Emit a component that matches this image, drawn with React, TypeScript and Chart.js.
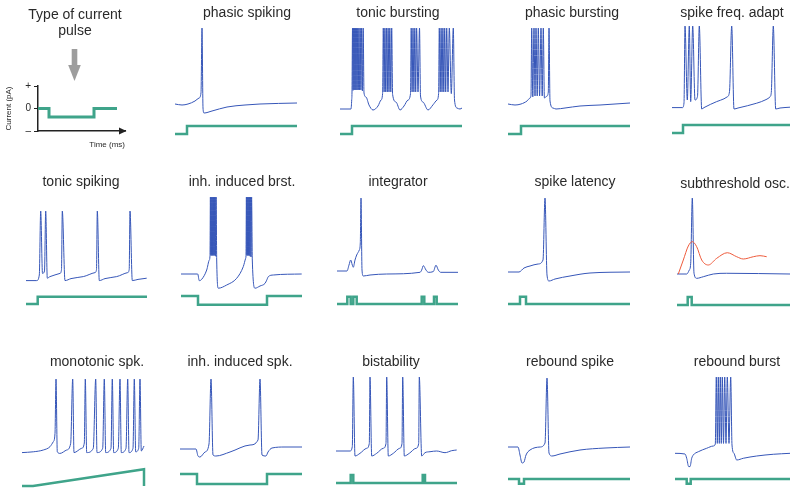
import React, { useEffect, useRef } from 'react';
import { Chart, registerables } from 'chart.js';

Chart.register(...registerables);

type Pt = [number, number];

// ---------------- data (t in ms, membrane potential in mV, current in pA) ----------------
const PANEL_TITLES = [
  'phasic spiking', 'tonic bursting', 'phasic bursting', 'spike freq. adapt',
  'tonic spiking', 'inh. induced brst.', 'integrator', 'spike latency', 'subthreshold osc.',
  'monotonic spk.', 'inh. induced spk.', 'bistability', 'rebound spike', 'rebound burst',
];

const LEGEND_TITLE = ['Type of current', 'pulse'];
const LEGEND_Y_LABEL = 'Current (pA)';
const LEGEND_X_LABEL = 'Time (ms)';
const LEGEND_TICK_VALUES = [-1, 0, 1];
const LEGEND_TICK_LABELS = ['–', '0', '+'];
const LEGEND_STEP: Pt[] = [[0, 0], [11, 0], [11, -0.38], [56, -0.38], [56, 0], [79, 0]];

const PHASIC_SPIKING_V: Pt[] = [[0, -65], [7, -66.25], [13, -65], [20, -61.25], [24, -57.5], [26, -51], [27, 30], [28, -70], [29, -76.25], [37, -73.75], [52, -68.75], [70, -66.25], [85, -65], [122, -63.75]];
const PHASIC_SPIKING_I: Pt[] = [[0, 0], [12, 0], [12, 10], [122, 10]];

const TONIC_BURSTING_V: Pt[] = [
  [0, -71.25], [11, -71.25], [11.7, -60], [12, -50], [12.5, 30], [13, -48], [13.5, 30], [14, -47.5], [14.5, 30], [15, -47.5], [15.5, 30], [16, -47.5], [16.6, 30], [17.1, -47.5], [17.7, 30], [18.3, -47.5], [18.9, 30], [19.5, -47.5], [20.2, 30], [20.9, -47.5], [21.6, 30], [22.4, -48.75], [23.2, 30], [24, -51.25], [26, -56.25], [29, -66.25], [33, -72.5], [38, -67.5], [41, -60], [42.6, -52],
  [43.3, 30], [44.1, -50], [44.9, 30], [45.7, -50], [46.5, 30], [47.3, -50], [48.1, 30], [49, -50], [49.8, 30], [50.8, -50], [51.7, 30], [52.6, -53], [56, -62.5], [60, -72.5], [64, -67.5], [68, -60], [70.5, -52],
  [71.2, 30], [72.1, -50], [73, 30], [73.9, -50], [74.8, 30], [75.7, -50], [76.6, 30], [78, -50], [79.5, 30], [80.5, -55], [83, -62.5], [88, -72.5], [93, -66], [97, -60], [98.6, -52],
  [99.3, 30], [100.2, -50], [101.1, 30], [102, -50], [102.9, 30], [103.8, -50], [104.7, 30], [105.7, -50], [106.7, 30], [108, -50], [109.3, 30], [111.3, -52], [113.3, 30], [114.5, -60], [117, -70], [120, -71.25], [122, -70],
];
const TONIC_BURSTING_I: Pt[] = [[0, 0], [12, 0], [12, 10], [122, 10]];

const PHASIC_BURSTING_V: Pt[] = [[0, -65], [7, -66.25], [13, -65], [19, -61.25], [22, -57.5], [23, -54], [23.7, 30], [24.8, -56], [26, 30], [27, -55], [28, 30], [29.2, -55], [30.3, 30], [31.6, -55], [33, 30], [34.2, -55], [35.3, 30], [36.4, -57.5], [39, -55], [40.3, -50], [41, 30], [42, -61.25], [45, -70], [48, -71.25], [57, -70], [72, -67.5], [92, -66.25], [122, -63.75]];
const PHASIC_BURSTING_I: Pt[] = [[0, 0], [13, 0], [13, 10], [122, 10]];

const SPIKE_FREQ_ADAPT_V: Pt[] = [[0, -72], [10.5, -72], [12, -66], [13, 30], [15.3, -62.5], [17.3, 30], [18.7, -64.5], [20.7, 30], [23, -62.5], [25.5, -58], [27.3, 30], [29.7, -73.75], [32, -72], [44.7, -64.5], [52, -61], [55.3, -58.5], [57.5, -52], [59.7, 30], [62, -73.75], [66, -72.5], [84.7, -66.5], [94, -62], [98, -58.5], [99.3, -53], [101.3, 30], [103.7, -73.75], [108, -72.5], [118, -71.5], [122, -71]];
const SPIKE_FREQ_ADAPT_I: Pt[] = [[0, 0], [11, 0], [11, 10], [122, 10]];

const TONIC_SPIKING_V: Pt[] = [[0, -57], [10.7, -57], [13.3, -50], [14.7, 30], [16.5, -48], [18.5, -45], [19.7, 30], [21.3, -54], [24, -52], [34, -48], [35.5, -43], [36.3, 30], [39, -57], [45, -54.5], [57.3, -52], [69, -47], [70.5, -43], [71.3, 30], [73.3, -57], [79, -54.5], [90.7, -52], [101.7, -47], [103.2, -43], [104, 30], [106.3, -57], [112, -55.5], [120.7, -54]];
const TONIC_SPIKING_I: Pt[] = [[0, 0], [11.7, 0], [11.7, 9], [121, 9]];

const INH_INDUCED_BRST_V: Pt[] = [[0, -66.25], [16.7, -66.25], [18.3, -74.6], [20.7, -72.9], [25.7, -61.25], [28.3, -48.75], [29, -43], [29.4, 30], [29.8, -43], [30.2, 30], [30.6, -43], [31, 30], [31.4, -43], [31.8, 30], [32.2, -43], [32.6, 30], [33, -43], [33.4, 30], [33.8, -43], [34.2, 30], [34.6, -44], [35.1, 30], [35.7, -48.75], [37.3, -84], [45.7, -80], [55.7, -71.6], [62.3, -57], [64.7, -46.6], [65, -43], [65.4, 30], [65.8, -43], [66.2, 30], [66.6, -43], [67, 30], [67.4, -43], [67.8, 30], [68.2, -43], [68.6, 30], [69, -44], [69.5, 30], [70, -45], [70.6, 30], [71.3, -48.75], [74, -84], [79, -81.25], [84, -78], [85.7, -74], [87.3, -69.6], [92.3, -67.5], [120.7, -66.25]];
const INH_INDUCED_BRST_I: Pt[] = [[0, 0], [17, 0], [17, -11], [86, -11], [86, 0], [121, 0]];

const INTEGRATOR_V: Pt[] = [[0, -61.25], [10, -61.25], [12, -53.75], [13.7, -47.5], [15.3, -53.75], [16.3, -56.6], [18, -47.5], [19.7, -41.25], [22.3, -35], [23.3, -26], [24, 30], [25, -60], [26.3, -67.5], [33, -66.25], [49.7, -65], [83, -62.9], [84.7, -60], [86.3, -54.6], [89, -60], [91.3, -62.9], [96.3, -62], [99, -54], [101.3, -60], [103.7, -62.9], [121, -62.9]];
const INTEGRATOR_I: Pt[] = [[0, 0], [10.3, 0], [10.3, 9], [13.7, 9], [13.7, 0], [16.3, 0], [16.3, 9], [19.7, 9], [19.7, 0], [84.7, 0], [84.7, 9], [87.3, 9], [87.3, 0], [97, 0], [97, 9], [99.7, 9], [99.7, 0], [121, 0]];

const SPIKE_LATENCY_V: Pt[] = [[0, -62.5], [11, -62.5], [16, -57.5], [22, -55], [30, -52.5], [35, -47.5], [37, 30], [39, -66.25], [41, -73.75], [47, -71.25], [62, -67.5], [82, -63.75], [122, -62.5]];
const SPIKE_LATENCY_I: Pt[] = [[0, 0], [12, 0], [12, 9], [18, 9], [18, 0], [122, 0]];

const SUBTHRESHOLD_V: Pt[] = [[0, -65], [9.7, -65], [12.3, -60], [13.7, -51.6], [15.3, 30], [17, -64], [19.7, -70.4], [26.3, -68.4], [36.3, -65], [49.7, -64.1], [113, -65]];
const SUBTHRESHOLD_OSC_V: Pt[] = [[1.3, -65], [6.3, -47.5], [11.3, -30], [15.3, -24.6], [19.7, -30.9], [24.7, -47.5], [31.3, -53.75], [39.7, -45.4], [50.3, -38.4], [59.7, -43.4], [66.3, -46.25], [76.3, -43.4], [83, -42.1], [89.7, -43.4]];
const SUBTHRESHOLD_I: Pt[] = [[0, 0], [10.7, 0], [10.7, 10], [14.7, 10], [14.7, 0], [113, 0]];

const MONOTONIC_V: Pt[] = [[0, -62], [11.3, -61], [21.3, -58.75], [28, -54.6], [31.3, -48.4], [33, -38], [34, 30], [35.3, -61], [38, -63], [44.7, -58.75], [48.7, -50.4], [50.7, 30], [52, -62], [59.7, -56.6], [62.3, -50], [63.3, 30], [64.7, -62], [71.3, -56.6], [73.7, 30], [75, -62], [80.7, -56.6], [82.3, 30], [83.7, -62], [89, -56.6], [90.3, 30], [91.7, -62], [96.3, -56.6], [98, 30], [99.3, -62], [104, -56.6], [105.7, 30], [107, -62], [111, -56.6], [112.3, 30], [113.7, -61], [116.7, -56.6], [118, 30], [119.3, -60], [122, -53.75]];
const MONOTONIC_I: Pt[] = [[0, 0], [11, 0], [122, 21], [122, 0]];

const INH_INDUCED_SPK_V: Pt[] = [[0, -57.5], [16, -57.5], [18, -66.25], [20, -67.5], [25, -61.25], [29, -51.25], [31, 30], [33, -65], [36, -66.25], [50, -61.25], [70, -52.5], [78, -46.25], [80, 30], [82, -65], [86, -66.25], [88, -61.25], [92, -56.25], [105, -55], [122, -55]];
const INH_INDUCED_SPK_I: Pt[] = [[0, 0], [17, 0], [17, -12.5], [87, -12.5], [87, 0], [122, 0]];

const BISTABILITY_V: Pt[] = [[0, -62.5], [14, -62.5], [16.3, -57], [17.3, 30], [19, -68.75], [24, -65.4], [30.7, -59.1], [33.3, -53], [34, 30], [35.7, -68.75], [40.7, -65.4], [47.3, -59.1], [50, -53], [50.7, 30], [52.3, -68.75], [57.3, -65.4], [63.7, -59.1], [66, -53], [66.7, 30], [68.3, -68.75], [73.3, -65.4], [80, -59.1], [82.7, -53], [83.3, 30], [85.7, -68.75], [89, -64.6], [94, -63.4], [100.7, -62.5], [109, -64.6], [115.7, -62.1], [120.7, -61.25]];
const BISTABILITY_I: Pt[] = [[0, 0], [14.7, 0], [14.7, 10], [17.3, 10], [17.3, 0], [86.7, 0], [86.7, 10], [89, 10], [89, 0], [121, 0]];

const REBOUND_SPIKE_V: Pt[] = [[0, -56.25], [10, -56.25], [12, -66.25], [14, -76.25], [16, -75], [18, -66.25], [22, -60], [32, -56.25], [37, -51.25], [39, 30], [41, -63.75], [44, -67.5], [52, -65], [72, -60], [97, -57.5], [122, -56.25]];
const REBOUND_SPIKE_I: Pt[] = [[0, 0], [11, 0], [11, -6], [16, -6], [16, 0], [122, 0]];

const REBOUND_BURST_V: Pt[] = [[0, -65.4], [10, -66.25], [11.7, -71.6], [13.7, -82], [15, -82], [16.7, -71.6], [18.3, -67.5], [23.3, -63.4], [31.7, -59.1], [38.3, -56.25], [40.3, -53.75], [41.3, 30], [42.3, -53], [43.3, 30], [44.3, -53], [45.3, 30], [46.3, -53], [47.3, 30], [48.5, -53], [49.7, 30], [51, -53], [52.3, 30], [54, -53], [55.7, 30], [57, -55], [59, -65.4], [61.7, -73.75], [68.3, -71.6], [81.7, -68.75], [98.3, -66.6], [115, -65.4]];
const REBOUND_BURST_I: Pt[] = [[0, 0], [11.7, 0], [11.7, -6], [15.7, -6], [15.7, 0], [115, 0]];

// ---------------- styling / layout ----------------
const FONT = '"Liberation Sans", Arial, Helvetica, sans-serif';
const TEXT = '#2a2a2a';
const BLUE = '#3656b8';
const GREEN = '#3fa48a';
const RED = '#ee5b3c';
const UNIT_PER_PX = 1.25; // mV per px and pA per px
const TITLE_SIZE = 14;

interface PanelSpec {
  title: string; top: number; height: number; titleY: number; cx: number;
  x0: number; v0Y: number; i0Y: number; v: Pt[]; i: Pt[]; v2?: Pt[];
}

const R1 = { top: 0, height: 150, titleY: 13.5 };
const R2 = { top: 160, height: 155, titleY: 182.5 };
const R3 = { top: 320, height: 171, titleY: 362 };

const PANELS: PanelSpec[] = [
  { ...R1, title: PANEL_TITLES[0], cx: 247, x0: 175, v0Y: 52, i0Y: 134, v: PHASIC_SPIKING_V, i: PHASIC_SPIKING_I },
  { ...R1, title: PANEL_TITLES[1], cx: 398, x0: 340, v0Y: 52, i0Y: 134, v: TONIC_BURSTING_V, i: TONIC_BURSTING_I },
  { ...R1, title: PANEL_TITLES[2], cx: 572, x0: 508, v0Y: 52, i0Y: 134, v: PHASIC_BURSTING_V, i: PHASIC_BURSTING_I },
  { ...R1, title: PANEL_TITLES[3], cx: 732, x0: 672, v0Y: 50, i0Y: 133, v: SPIKE_FREQ_ADAPT_V, i: SPIKE_FREQ_ADAPT_I },
  { ...R2, title: PANEL_TITLES[4], cx: 81, x0: 26, v0Y: 235, i0Y: 304, v: TONIC_SPIKING_V, i: TONIC_SPIKING_I },
  { ...R2, title: PANEL_TITLES[5], cx: 242, x0: 181, v0Y: 221, i0Y: 296, v: INH_INDUCED_BRST_V, i: INH_INDUCED_BRST_I },
  { ...R2, title: PANEL_TITLES[6], cx: 398, x0: 337, v0Y: 222, i0Y: 304, v: INTEGRATOR_V, i: INTEGRATOR_I },
  { ...R2, title: PANEL_TITLES[7], cx: 575, x0: 508, v0Y: 222, i0Y: 304, v: SPIKE_LATENCY_V, i: SPIKE_LATENCY_I },
  { ...R2, titleY: 184.5, title: PANEL_TITLES[8], cx: 735, x0: 677, v0Y: 222, i0Y: 305, v: SUBTHRESHOLD_V, i: SUBTHRESHOLD_I, v2: SUBTHRESHOLD_OSC_V },
  { ...R3, title: PANEL_TITLES[9], cx: 97, x0: 22, v0Y: 403, i0Y: 486, v: MONOTONIC_V, i: MONOTONIC_I },
  { ...R3, title: PANEL_TITLES[10], cx: 240, x0: 180, v0Y: 403, i0Y: 474, v: INH_INDUCED_SPK_V, i: INH_INDUCED_SPK_I },
  { ...R3, title: PANEL_TITLES[11], cx: 391, x0: 336, v0Y: 401, i0Y: 483, v: BISTABILITY_V, i: BISTABILITY_I },
  { ...R3, title: PANEL_TITLES[12], cx: 570, x0: 508, v0Y: 402, i0Y: 479, v: REBOUND_SPIKE_V, i: REBOUND_SPIKE_I },
  { ...R3, title: PANEL_TITLES[13], cx: 737, x0: 675, v0Y: 401, i0Y: 479, v: REBOUND_BURST_V, i: REBOUND_BURST_I },
];

const toXY = (arr: Pt[]) => arr.map(([x, y]) => ({ x, y }));

function panelGeometry(p: PanelSpec) {
  const tMax = Math.max(...p.v.map((d) => d[0]), ...p.i.map((d) => d[0]));
  const half = Math.round(Math.max(p.cx - p.x0, p.x0 + tMax - p.cx) + 3);
  return { left: p.cx - half, width: 2 * half };
}

function panelConfig(p: PanelSpec): any {
  const { left, width } = panelGeometry(p);
  const lh = TITLE_SIZE * 1.2;
  const padTop = p.titleY - p.top - lh / 2;
  const padBottom = 2;
  const chartTop = p.top + padTop + lh + padBottom;
  const chartBottom = p.top + p.height;
  const datasets: any[] = [
    { data: toXY(p.i), yAxisID: 'yI', borderColor: GREEN, borderWidth: 2.5, pointRadius: 0, tension: 0 },
  ];
  if (p.v2) {
    datasets.push({ data: toXY(p.v2), yAxisID: 'yV', borderColor: RED, borderWidth: 1, pointRadius: 0, cubicInterpolationMode: 'monotone' });
  }
  datasets.push({ data: toXY(p.v), yAxisID: 'yV', borderColor: BLUE, borderWidth: 1, pointRadius: 0, cubicInterpolationMode: 'monotone' });
  return {
    type: 'line',
    data: { datasets },
    options: {
      animation: false,
      responsive: false,
      maintainAspectRatio: false,
      events: [],
      layout: { padding: 0 },
      plugins: {
        legend: { display: false },
        tooltip: { enabled: false },
        title: {
          display: true, text: p.title, color: TEXT,
          font: { family: FONT, size: TITLE_SIZE, weight: 'normal' },
          padding: { top: padTop, bottom: padBottom },
        },
      },
      scales: {
        x: { type: 'linear', display: false, min: left - p.x0, max: left + width - p.x0 },
        yV: { type: 'linear', display: false, min: (p.v0Y - chartBottom) * UNIT_PER_PX, max: (p.v0Y - chartTop) * UNIT_PER_PX },
        yI: { type: 'linear', display: false, min: (p.i0Y - chartBottom) * UNIT_PER_PX, max: (p.i0Y - chartTop) * UNIT_PER_PX },
      },
    },
  };
}

function Panel({ p }: { p: PanelSpec }) {
  const ref = useRef<HTMLCanvasElement>(null);
  const { left, width } = panelGeometry(p);
  useEffect(() => {
    const chart = new Chart(ref.current as HTMLCanvasElement, panelConfig(p));
    return () => chart.destroy();
  }, []);
  return (
    <div style={{ position: 'absolute', left, top: p.top, width, height: p.height }}>
      <canvas ref={ref} width={width} height={p.height} style={{ width, height: p.height, display: 'block' }} />
    </div>
  );
}

const legendArrows = {
  id: 'legendArrows',
  afterDraw(chart: any) {
    const { ctx, chartArea: a } = chart;
    const ax = chart.scales.x.getPixelForValue(36.5);
    ctx.save();
    ctx.fillStyle = '#9d9d9d';
    ctx.fillRect(ax - 2.8, 49, 5.6, 17);
    ctx.beginPath();
    ctx.moveTo(ax - 6.3, 65);
    ctx.lineTo(ax + 6.3, 65);
    ctx.lineTo(ax, 81);
    ctx.closePath();
    ctx.fill();
    ctx.fillStyle = '#222';
    ctx.beginPath();
    ctx.moveTo(a.right + 1.5, a.bottom);
    ctx.lineTo(a.right - 6, a.bottom - 3.5);
    ctx.lineTo(a.right - 6, a.bottom + 3.5);
    ctx.closePath();
    ctx.fill();
    ctx.restore();
  },
};

function LegendPanel() {
  const ref = useRef<HTMLCanvasElement>(null);
  useEffect(() => {
    const chart = new Chart(ref.current as HTMLCanvasElement, {
      type: 'line',
      data: {
        datasets: [
          { data: toXY(LEGEND_STEP), borderColor: GREEN, borderWidth: 3, pointRadius: 0, tension: 0, yAxisID: 'y' },
        ],
      },
      options: {
        animation: false,
        responsive: false,
        maintainAspectRatio: false,
        events: [],
        layout: { padding: 0 },
        plugins: {
          legend: { display: false },
          tooltip: { enabled: false },
          title: {
            display: true, text: LEGEND_TITLE, color: TEXT,
            font: { family: FONT, size: TITLE_SIZE, weight: 'normal', lineHeight: 16 / 14 },
            padding: { top: 7, bottom: 47 },
          },
        },
        scales: {
          x: {
            type: 'linear', min: 0, max: 87, position: 'bottom',
            ticks: { display: false }, grid: { display: false },
            border: { display: true, color: '#222', width: 1.5 },
            title: { display: true, text: LEGEND_X_LABEL, align: 'end', color: TEXT, font: { family: FONT, size: 8 }, padding: { top: 0, bottom: 0 } },
            afterFit: (s: any) => { s.height = 19; },
          },
          y: {
            type: 'linear', min: -1, max: 1, position: 'left',
            afterBuildTicks: (s: any) => { s.ticks = LEGEND_TICK_VALUES.map((value) => ({ value })); },
            ticks: {
              color: TEXT, font: { family: FONT, size: 10 }, padding: 3,
              callback: (v: any) => LEGEND_TICK_LABELS[LEGEND_TICK_VALUES.indexOf(Number(v))],
            },
            grid: { display: true, drawOnChartArea: false, drawTicks: true, tickLength: 4, color: '#222', lineWidth: 1 },
            border: { display: true, color: '#222', width: 1.5 },
            title: { display: true, text: LEGEND_Y_LABEL, color: TEXT, font: { family: FONT, size: 8 }, padding: { top: 4, bottom: 0 } },
            afterFit: (s: any) => { s.width = 38; },
          },
          yR: {
            type: 'linear', position: 'right', display: true,
            ticks: { display: false }, grid: { display: false }, border: { display: false },
            afterFit: (s: any) => { s.width = 25; },
          },
        },
      } as any,
      plugins: [legendArrows],
    } as any);
    return () => chart.destroy();
  }, []);
  return (
    <div style={{ position: 'absolute', left: 0, top: 0, width: 150, height: 150 }}>
      <canvas ref={ref} width={150} height={150} style={{ width: 150, height: 150, display: 'block' }} />
    </div>
  );
}

export default function App() {
  return (
    <div style={{ position: 'fixed', left: 0, top: 0, width: 790, height: 491, overflow: 'hidden', background: '#fff' }}>
      <LegendPanel />
      {PANELS.map((p, k) => <Panel key={k} p={p} />)}
    </div>
  );
}
